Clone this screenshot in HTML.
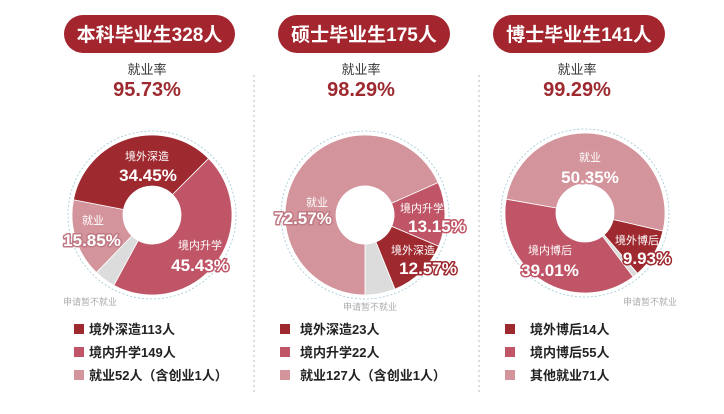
<!DOCTYPE html>
<html><head><meta charset="utf-8"><style>
body{margin:0;width:724px;height:409px;background:#fff;overflow:hidden}
svg text{font-family:"Liberation Sans","Noto Sans CJK SC",sans-serif}
</style></head><body>
<svg id="s" width="724" height="409" viewBox="0 0 724 409" xmlns="http://www.w3.org/2000/svg">
<line x1="254" y1="75" x2="254" y2="393" stroke="#bbb" stroke-width="1" stroke-dasharray="2,3"/>
<line x1="479" y1="75" x2="479" y2="393" stroke="#bbb" stroke-width="1" stroke-dasharray="2,3"/>
<g id="g"></g>
<g font-weight="bold" text-anchor="middle">
<rect x="64" y="15" width="171" height="38" rx="19" fill="#a3252d"/>
<text x="149.5" y="41" font-size="19" fill="#fff">本科毕业生328人</text>
<rect x="278" y="15" width="172" height="38" rx="19" fill="#a3252d"/>
<text x="364" y="41" font-size="19" fill="#fff">硕士毕业生175人</text>
<rect x="493" y="15" width="172" height="38" rx="19" fill="#a3252d"/>
<text x="579" y="41" font-size="19" fill="#fff">博士毕业生141人</text>
<text x="147" y="74" font-size="13" font-weight="normal" fill="#333">就业率</text>
<text x="147" y="96" font-size="20" fill="#9e2a30">95.73%</text>
<text x="361" y="74" font-size="13" font-weight="normal" fill="#333">就业率</text>
<text x="361" y="96" font-size="20" fill="#9e2a30">98.29%</text>
<text x="577" y="74" font-size="13" font-weight="normal" fill="#333">就业率</text>
<text x="577" y="96" font-size="20" fill="#9e2a30">99.29%</text>
</g>
<g font-size="13" fill="#222" font-weight="bold">
<rect x="74" y="324" width="10" height="10" fill="#9e2a30"/><text x="89" y="334">境外深造113人</text>
<rect x="74" y="347" width="10" height="10" fill="#bf5566"/><text x="89" y="357">境内升学149人</text>
<rect x="74" y="370" width="10" height="10" fill="#d3949c"/><text x="89" y="380">就业52人（含创业1人）</text>
<rect x="280" y="324" width="10" height="10" fill="#9e2a30"/><text x="300" y="334">境外深造23人</text>
<rect x="280" y="347" width="10" height="10" fill="#bf5566"/><text x="300" y="357">境内升学22人</text>
<rect x="280" y="370" width="10" height="10" fill="#d3949c"/><text x="300" y="380">就业127人（含创业1人）</text>
<rect x="505" y="324" width="10" height="10" fill="#9e2a30"/><text x="530" y="334">境外博后14人</text>
<rect x="505" y="347" width="10" height="10" fill="#bf5566"/><text x="530" y="357">境内博后55人</text>
<rect x="505" y="370" width="10" height="10" fill="#d3949c"/><text x="530" y="380">其他就业71人</text>
</g>
<g id="lbl" fill="#fff" text-anchor="middle"></g>
</svg>
<script>
var D="#9e2a30",M="#bf5566",L="#d3949c",G="#dcdcdc";
function arc(cx,cy,r,r0,a0,a1,c){
 function p(a,rr){var t=(a-90)*Math.PI/180;return [cx+rr*Math.cos(t),cy+rr*Math.sin(t)];}
 var l=(a1-a0)>180?1:0,A=p(a0,r),B=p(a1,r),C=p(a1,r0),E=p(a0,r0);
 return '<path d="M'+A+' A'+r+','+r+' 0 '+l+' 1 '+B+' L'+C+' A'+r0+','+r0+' 0 '+l+' 0 '+E+'Z" fill="'+c+'" stroke="#fff" stroke-width="0.8"/>';
}
var charts=[
 [152,215,[[45,208.5,M],[208.5,224,G],[224,281,L],[281,405,D]]],
 [365,215,[[66,113,M],[113,158,D],[158,180,G],[180,426,L]]],
 [585,213,[[103,139,D],[139,143,G],[143,280,M],[280,463,L]]]];
var h='';
charts.forEach(function(c){
 h+='<circle cx="'+c[0]+'" cy="'+c[1]+'" r="84" fill="none" stroke="#9cc8d4" stroke-width="0.8" stroke-dasharray="2,2"/>';
 c[2].forEach(function(s){h+=arc(c[0],c[1],80,29,s[0],s[1],s[2]);});
});
document.getElementById('g').innerHTML=h;
var T=[[147,160,"境外深造",11,D],[148,181,"34.45%",17,D],[93,224,"就业",11,L],[92,246,"15.85%",17,"#c07a84"],[200,249,"境内升学",11,M],[200,271,"45.43%",17,M],
[317,206,"就业",11,L],[303,224,"72.57%",17,"#c07a84"],[422,212,"境内升学",11,M],[437,232,"13.15%",17,M],[413,254,"境外深造",11,D],[428,274,"12.57%",17,D],
[590,161,"就业",11,L],[590,183,"50.35%",17,L],[637,244,"境外博后",11,D],[647,264,"9.93%",17,D],[550,254,"境内博后",11,M],[550,276,"39.01%",17,M]];
var t='';
T.forEach(function(x){t+='<text x="'+x[0]+'" y="'+x[1]+'" font-size="'+x[3]+'"'+(x[3]>12?' font-weight="bold" stroke="'+x[4]+'" stroke-width="3" paint-order="stroke" stroke-linejoin="round"':'')+'>'+x[2]+'</text>';});
t+='<text x="90" y="305" font-size="9" fill="#aaa">申请暂不就业</text><text x="370" y="310" font-size="9" fill="#aaa">申请暂不就业</text><text x="650" y="305" font-size="9" fill="#aaa">申请暂不就业</text>';
document.getElementById('lbl').innerHTML=t;
</script>
</body></html>
